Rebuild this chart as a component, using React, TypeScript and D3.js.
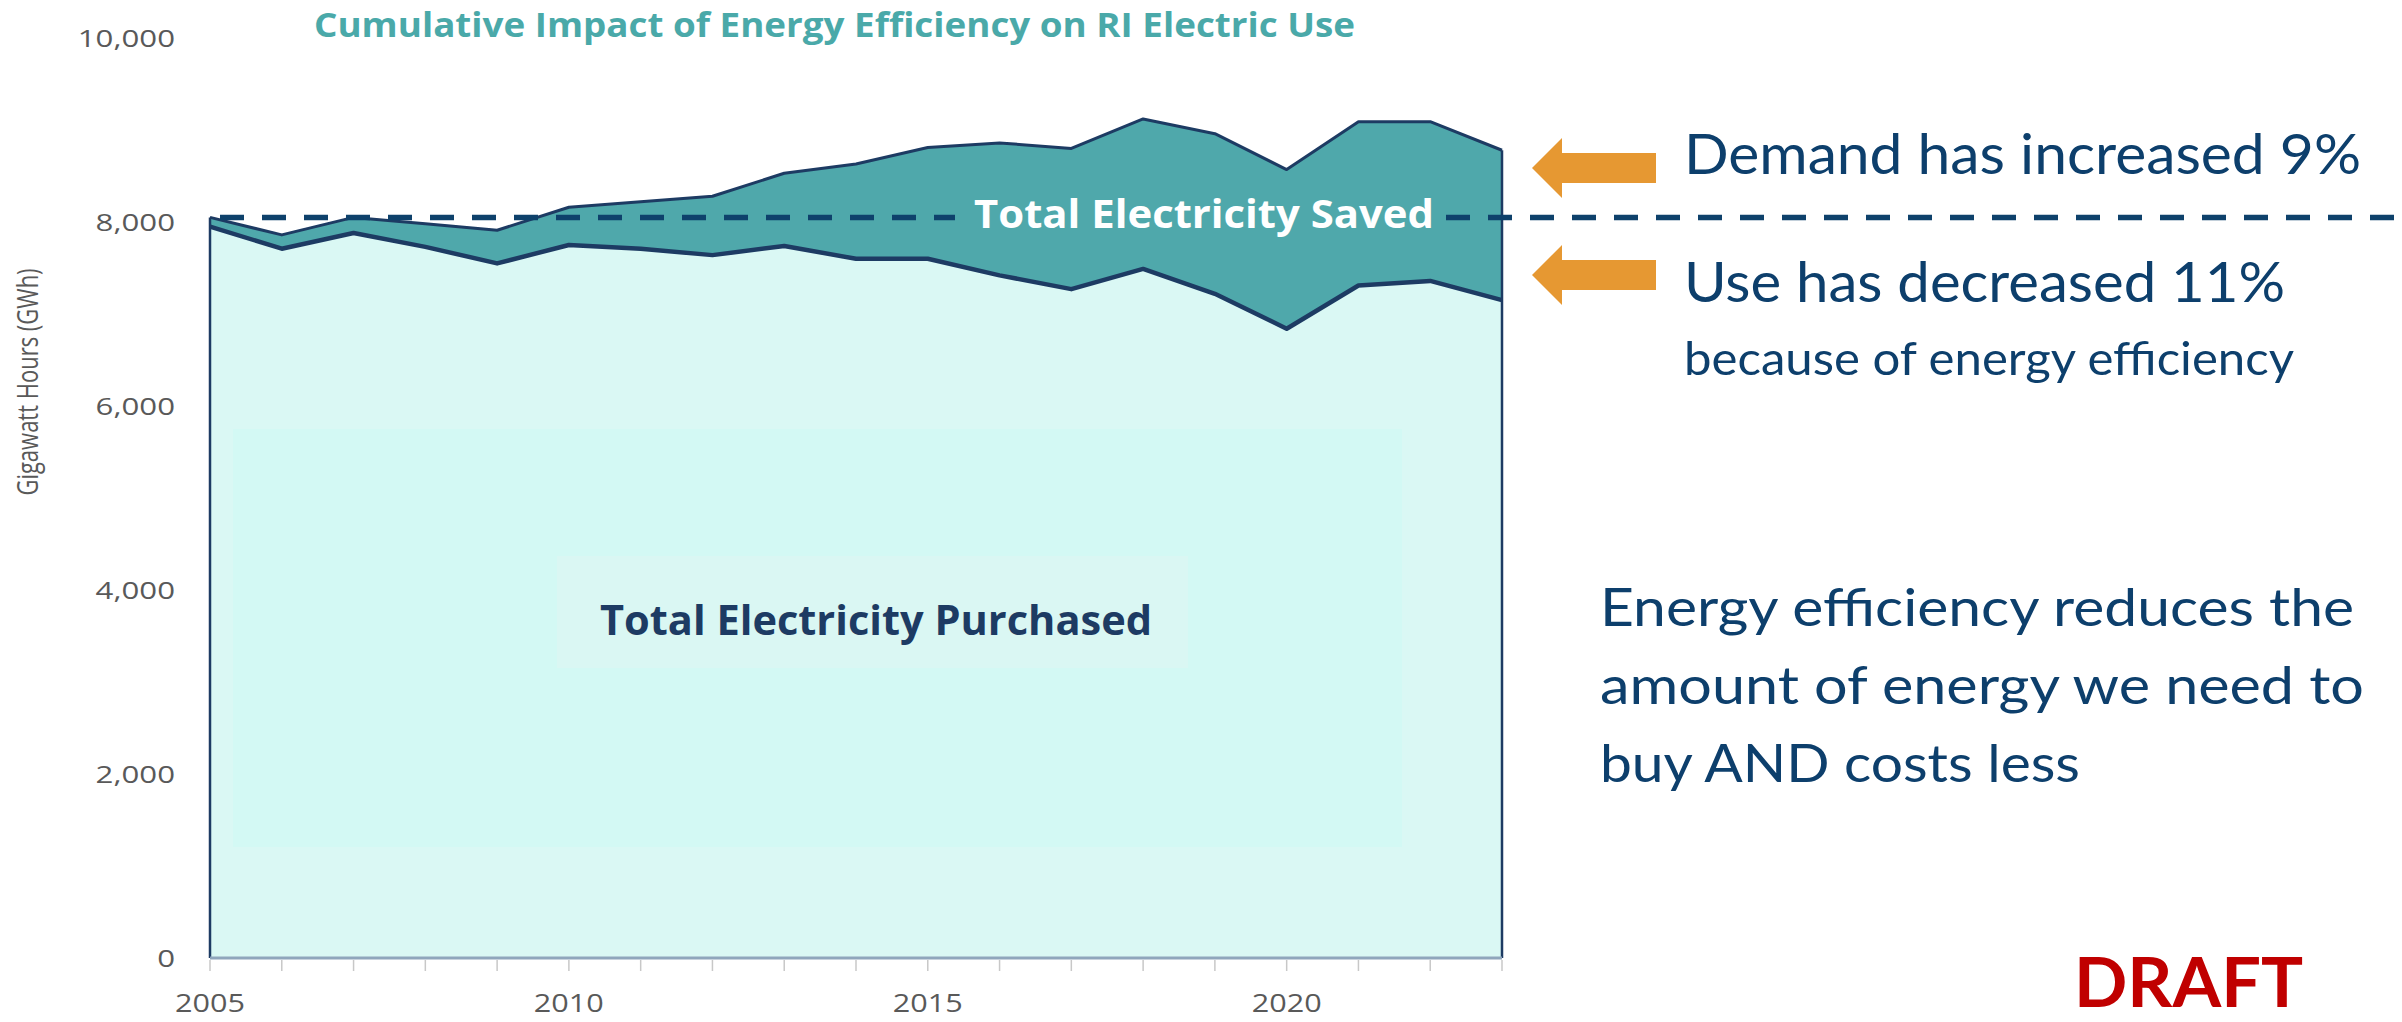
import React from "react";
import * as d3 from "d3";

// values (GWh)
const years = [2005, 2006, 2007, 2008, 2009, 2010, 2011, 2012, 2013, 2014, 2015, 2016, 2017, 2018, 2019, 2020, 2021, 2022, 2023];
const demand = [8050, 7860, 8050, 7980, 7910, 8160, 8220, 8280, 8530, 8630, 8810, 8860, 8800, 9120, 8960, 8570, 9090, 9090, 8780];
const purchased = [7950, 7710, 7880, 7730, 7550, 7750, 7710, 7640, 7740, 7600, 7600, 7420, 7270, 7490, 7220, 6840, 7310, 7360, 7150];
const yTicks = [0, 2000, 4000, 6000, 8000, 10000];
const xTickLabels = [2005, 2010, 2015, 2020];
const referenceLevel = 8050;

const title = "Cumulative Impact of Energy Efficiency on RI Electric Use";
const noteLines = ["Energy efficiency reduces the", "amount of energy we need to", "buy AND costs less"];

const W = 2402;
const H = 1022;

const TEAL = "#4fa8ab";
const PALE = "#daf8f4";
const NAVY = "#1d3b63";
const DASH = "#0e416b";
const TEXT_BLUE = "#0d3f6c";
const ORANGE = "#e69832";

function Arrow({ tipX, tipY }: { tipX: number; tipY: number }) {
  // left pointing block arrow
  const headW = 30, headH = 30, shaftH = 15, tail = 124;
  const p = [
    [tipX, tipY],
    [tipX + headW, tipY - headH],
    [tipX + headW, tipY - shaftH],
    [tipX + tail, tipY - shaftH],
    [tipX + tail, tipY + shaftH],
    [tipX + headW, tipY + shaftH],
    [tipX + headW, tipY + headH],
  ];
  return <path d={"M" + p.map((q) => q.join(",")).join("L") + "Z"} fill={ORANGE} />;
}

export default function App() {
  const data = years.map((yr, i) => ({ year: yr, demand: demand[i], purchased: purchased[i] }));

  const x = d3.scaleLinear().domain([2005, 2023]).range([210, 1502]);
  const y = d3.scaleLinear().domain([0, 10000]).range([958, 38]);

  const purchasedArea = d3
    .area<any>()
    .x((d) => x(d.year))
    .y0(y(0))
    .y1((d) => y(d.purchased));
  const savedArea = d3
    .area<any>()
    .x((d) => x(d.year))
    .y0((d) => y(d.purchased))
    .y1((d) => y(d.demand));
  const purchasedLine = d3
    .line<any>()
    .x((d) => x(d.year))
    .y((d) => y(d.purchased));
  const demandLine = d3
    .line<any>()
    .x((d) => x(d.year))
    .y((d) => y(d.demand));

  const refY = y(referenceLevel);
  const first = data[0];
  const last = data[data.length - 1];

  return (
    <svg
      width={W}
      height={H}
      style={{ position: "absolute", left: 0, top: 0, background: "#fff" }}
      fontFamily="'Open Sans', sans-serif"
    >
      {/* areas */}
      <path d={purchasedArea(data) as string} fill={PALE} />
      <rect x={233} y={429} width={1169} height={418} fill="#d3f9f4" />
      <rect x={557} y={556} width={631} height={112} fill="#daf7f3" />
      <path d={savedArea(data) as string} fill={TEAL} />

      {/* outlines */}
      <path d={demandLine(data) as string} fill="none" stroke={NAVY} strokeWidth={3} strokeLinejoin="round" />
      <path d={purchasedLine(data) as string} fill="none" stroke={NAVY} strokeWidth={4.5} strokeLinejoin="round" />
      <line x1={x(first.year)} x2={x(first.year)} y1={y(first.demand)} y2={y(0)} stroke={NAVY} strokeWidth={2.5} />
      <line x1={x(last.year)} x2={x(last.year)} y1={y(last.demand)} y2={y(0)} stroke={NAVY} strokeWidth={2.5} />
      <line x1={x(2005)} x2={x(2023)} y1={y(0)} y2={y(0)} stroke="#8fa6bc" strokeWidth={3} />

      {/* x ticks */}
      {years.map((yr) => (
        <line key={yr} x1={x(yr)} x2={x(yr)} y1={y(0) + 2} y2={y(0) + 13} stroke="#c8c8c8" strokeWidth={1.5} />
      ))}
      {xTickLabels.map((yr) => (
        <text key={yr} x={x(yr)} y={1012} textAnchor="middle" fontSize={26} fill="#595959" textLength={70} lengthAdjust="spacingAndGlyphs">
          {yr}
        </text>
      ))}

      {/* y ticks */}
      {yTicks.map((v) => (
        <text
          key={v}
          transform={`translate(175,${y(v) + 9}) scale(1.3,1)`}
          textAnchor="end"
          fontSize={24}
          fill="#595959"
        >
          {d3.format(",")(v)}
        </text>
      ))}
      <text transform="translate(38,382) scale(1.35,1) rotate(-90)" textAnchor="middle" fontSize={22} fill="#595959">
        Gigawatt Hours (GWh)
      </text>

      {/* title */}
      <text x={314} y={37} fontSize={34} fontWeight={700} fill="#4aa9a9" textLength={1041} lengthAdjust="spacingAndGlyphs">
        {title}
      </text>

      {/* reference dashed line */}
      <line x1={220} x2={955} y1={refY} y2={refY} stroke={DASH} strokeWidth={5.5} strokeDasharray="24 18" />
      <line x1={1446} x2={W} y1={refY} y2={refY} stroke={DASH} strokeWidth={5.5} strokeDasharray="24 18" />

      {/* area labels */}
      <text x={974} y={228} fontSize={40} fontWeight={700} fill="#fff" textLength={460} lengthAdjust="spacingAndGlyphs">
        Total Electricity Saved
      </text>
      <text x={600} y={635} fontSize={41} fontWeight={700} fill={NAVY} textLength={552} lengthAdjust="spacingAndGlyphs">
        Total Electricity Purchased
      </text>

      {/* annotations */}
      <Arrow tipX={1532} tipY={168} />
      <Arrow tipX={1532} tipY={275} />
      <g fontFamily="Lato, 'Open Sans', sans-serif" fill={TEXT_BLUE}>
        <text x={1684} y={174} fontSize={57} textLength={677} lengthAdjust="spacingAndGlyphs">
          Demand has increased 9%
        </text>
        <text x={1684} y={302} fontSize={57} textLength={601} lengthAdjust="spacingAndGlyphs">
          Use has decreased 11%
        </text>
        <text x={1684} y={375} fontSize={47} textLength={610} lengthAdjust="spacingAndGlyphs">
          because of energy efficiency
        </text>
        {noteLines.map((t, i) => (
          <text
            key={t}
            x={1600}
            y={626 + i * 78}
            fontSize={53}
            textLength={[754, 764, 480][i]}
            lengthAdjust="spacingAndGlyphs"
          >
            {t}
          </text>
        ))}
      </g>
      <text
        x={2074}
        y={1007}
        fontFamily="Lato, 'Open Sans', sans-serif"
        fontSize={68}
        fontWeight={700}
        fill="#c00000"
        textLength={229}
        lengthAdjust="spacingAndGlyphs"
      >
        DRAFT
      </text>
    </svg>
  );
}
